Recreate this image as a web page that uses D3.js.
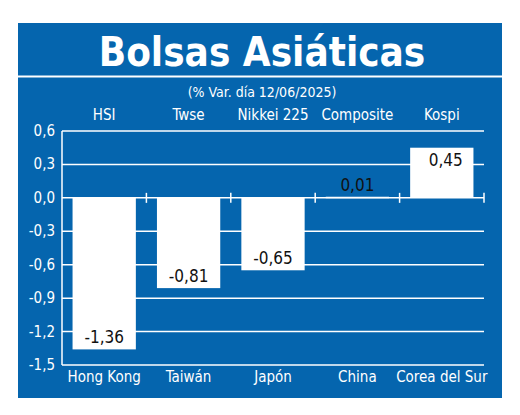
<!DOCTYPE html>
<html><head><meta charset="utf-8">
<script src="https://cdn.jsdelivr.net/npm/d3@7"></script>
<style>body{margin:0;background:#fff}</style>
</head><body>
<script>
const countries = ['Hong Kong', 'Taiwán', 'Japón', 'China', 'Corea del Sur'];
const indices = ['HSI', 'Twse', 'Nikkei 225', 'Composite', 'Kospi'];
const values = [-1.36, -0.81, -0.65, 0.01, 0.45];
const yTicks = [0.6, 0.3, 0, -0.3, -0.6, -0.9, -1.2, -1.5];

const W = 520, H = 415, blue = '#0565ae';
const svg = d3.select('body').append('svg').attr('width', W).attr('height', H);
svg.append('rect').attr('x', 18).attr('y', 23).attr('width', 484).attr('height', 375).attr('fill', blue);
svg.append('line').attr('x1', 18).attr('x2', 502).attr('y1', 76.5).attr('y2', 76.5)
    .attr('stroke', '#fff').attr('stroke-width', 2);
svg.append('text').attr('x', 262).attr('y', 66).attr('text-anchor', 'middle')
    .attr('fill', '#fff').style('font', 'bold 40px "DejaVu Sans Condensed", "DejaVu Sans"')
    .text('Bolsas Asiáticas');
svg.append('text').attr('x', 262).attr('y', 97).attr('text-anchor', 'middle')
    .attr('fill', '#fff').style('font', '14px "DejaVu Sans Condensed"')
    .text('(% Var. día 12/06/2025)');

const x = d3.scaleBand().domain(countries).range([62, 484]).paddingInner(0.25).paddingOuter(0.125);
const y = d3.scaleLinear().domain([-1.5, 0.6]).range([365, 131]);
const font = '15px "DejaVu Sans Condensed"';

// grid
svg.append('g').selectAll('line').data(yTicks.filter(d => d !== -1.5)).join('line')
    .attr('x1', 62).attr('x2', 484).attr('y1', d => y(d)).attr('y2', d => y(d))
    .attr('stroke', '#fff').attr('stroke-width', 1.5);
svg.append('line').attr('x1', 62).attr('x2', 484).attr('y1', y(-1.5)).attr('y2', y(-1.5))
    .attr('stroke', '#fff').attr('stroke-width', 1.5);
svg.append('line').attr('x1', 62).attr('x2', 62).attr('y1', y(0.6)).attr('y2', y(-1.5))
    .attr('stroke', '#fff').attr('stroke-width', 1.5);
// category boundary ticks on zero line
svg.append('g').selectAll('line').data(countries).join('line')
    .attr('x1', d => x(d) + x.bandwidth() + x.step() * 0.125)
    .attr('x2', d => x(d) + x.bandwidth() + x.step() * 0.125)
    .attr('y1', y(0) - 5).attr('y2', y(0) + 5)
    .attr('stroke', '#fff').attr('stroke-width', 1.5);

svg.append('g').selectAll('text').data(yTicks).join('text')
    .attr('x', 55).attr('y', d => y(d) + 5).attr('text-anchor', 'end')
    .attr('fill', '#fff').style('font', font)
    .text(d => d3.format('.1f')(d).replace('.', ',').replace('−', '-'));

svg.append('g').selectAll('rect').data(values).join('rect')
    .attr('x', (d, i) => x(countries[i])).attr('width', x.bandwidth())
    .attr('y', d => y(Math.max(0, d))).attr('height', d => Math.max(1.5, Math.abs(y(d) - y(0))))
    .attr('fill', '#fff');

svg.append('g').selectAll('text').data(values).join('text')
    .attr('x', (d, i) => x(countries[i]) + x.bandwidth() / 2 + (i === 4 ? 4 : 0))
    .attr('y', d => d < 0 ? y(d) - 6 : (d < 0.1 ? y(d) - 6 : y(d) + 18))
    .attr('text-anchor', 'middle').attr('fill', '#111').style('font', '17px "DejaVu Sans Condensed"')
    .text(d => d3.format('.2f')(d).replace('.', ',').replace('−', '-'));

svg.append('g').selectAll('text').data(indices).join('text')
    .attr('x', (d, i) => x(countries[i]) + x.bandwidth() / 2).attr('y', 120)
    .attr('text-anchor', 'middle').attr('fill', '#fff').style('font', font).text(d => d);
svg.append('g').selectAll('text').data(countries).join('text')
    .attr('x', (d) => x(d) + x.bandwidth() / 2).attr('y', 382)
    .attr('text-anchor', 'middle').attr('fill', '#fff').style('font', font).text(d => d);
</script>
</body></html>
